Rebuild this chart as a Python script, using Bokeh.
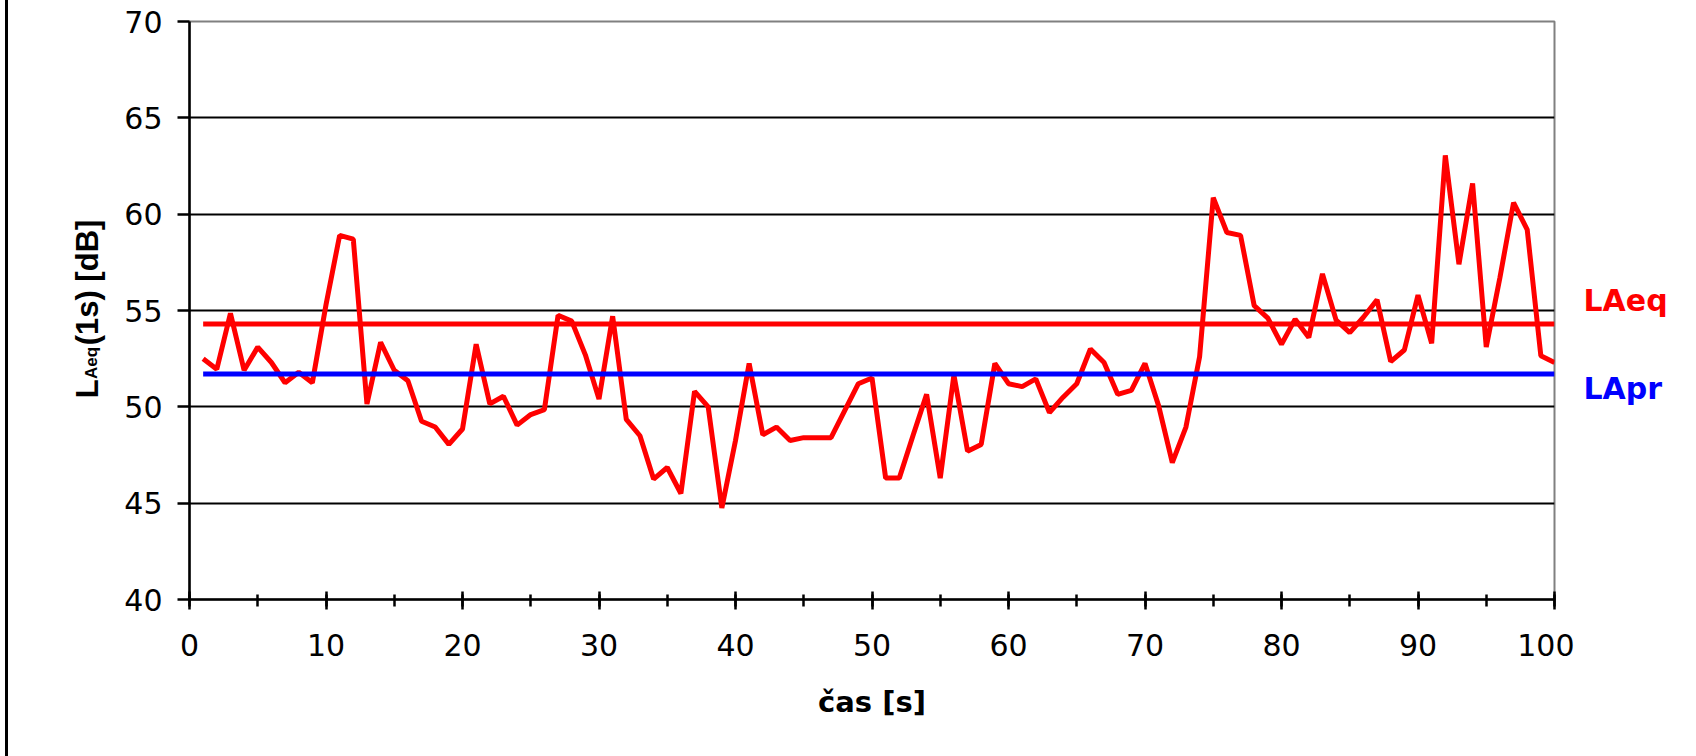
import math
from bokeh.plotting import figure
from bokeh.models import (SingleIntervalTicker, FixedTicker, Label, Spacer,
                          Range1d, ColumnDataSource)
from bokeh.layouts import row
from bokeh.embed import file_html
from bokeh.resources import INLINE

# ---------------- data ----------------
time_s = list(range(1, 101))
laeq_1s = [
    52.5, 51.95, 54.85, 51.9, 53.1, 52.3, 51.25, 51.8, 51.25, 55.3,
    58.9, 58.7, 50.15, 53.35, 51.9, 51.35, 49.25, 48.95, 48.05, 48.85,
    53.25, 50.15, 50.55, 49.05, 49.6, 49.85, 54.75, 54.45, 52.7, 50.4,
    54.7, 49.35, 48.5, 46.25, 46.85, 45.5, 50.8, 50.0, 44.75, 48.25,
    52.25, 48.55, 48.95, 48.25, 48.4, 48.4, 48.4, 49.8, 51.2, 51.5,
    46.3, 46.3, 48.5, 50.65, 46.3, 51.65, 47.7, 48.05, 52.25, 51.2,
    51.05, 51.45, 49.7, 50.5, 51.2, 53.0, 52.3, 50.65, 50.85, 52.25,
    50.05, 47.1, 48.95, 52.6, 60.85, 59.05, 58.9, 55.25, 54.6, 53.25,
    54.55, 53.6, 56.9, 54.5, 53.85, 54.65, 55.55, 52.35, 52.95, 55.8,
    53.3, 63.05, 57.4, 61.6, 53.1, 56.7, 60.6, 59.2, 52.65, 52.3,
]
laeq_total = 54.3
lapr = 51.7
series_names = ["LAeq", "LApr"]
x_title = "čas [s]"
y_title_parts = ["L", "Aeq", "(1s) [dB]"]

Y0, Y1 = 40, 70
TOP, BOTTOM = 21, 157
H = 756

# ---------------- main chart ----------------
p = figure(width=1466, height=H, x_range=Range1d(0, 100), y_range=Range1d(Y0, Y1),
           output_backend="svg", toolbar_location=None, title=None,
           min_border_left=81, min_border_right=20, min_border_top=TOP,
           min_border_bottom=BOTTOM, background_fill_color="white",
           border_fill_color="white")

p.outline_line_color = "#808080"
p.outline_line_width = 2

p.xgrid.visible = False
p.ygrid.ticker = FixedTicker(ticks=[45, 50, 55, 60, 65])
p.ygrid.grid_line_color = "black"
p.ygrid.grid_line_width = 2

p.xaxis.ticker = SingleIntervalTicker(interval=10, num_minor_ticks=2)
p.yaxis.ticker = SingleIntervalTicker(interval=5, num_minor_ticks=0)

for ax in (p.xaxis, p.yaxis):
    ax.axis_line_color = "black"
    ax.axis_line_width = 2.5
    ax.major_tick_line_color = "black"
    ax.major_tick_line_width = 2.5
    ax.minor_tick_line_color = "black"
    ax.minor_tick_line_width = 2.5
    ax.major_label_text_font = "DejaVu Sans"
    ax.major_label_text_font_size = "30px"
    ax.major_label_text_color = "black"

p.xaxis.major_tick_in = 8
p.xaxis.major_tick_out = 10
p.xaxis.minor_tick_in = 5
p.xaxis.minor_tick_out = 7
p.xaxis.major_label_standoff = 24
p.xaxis.axis_label = x_title
p.xaxis.axis_label_text_font = "DejaVu Sans"
p.xaxis.axis_label_text_font_style = "bold"
p.xaxis.axis_label_text_font_size = "29px"
p.xaxis.axis_label_text_color = "black"
p.xaxis.axis_label_standoff = 26

p.yaxis.major_tick_in = 0
p.yaxis.major_tick_out = 12
p.yaxis.minor_tick_in = 0
p.yaxis.minor_tick_out = 0
p.yaxis.major_label_standoff = 15

src = ColumnDataSource(dict(t=time_s, v=laeq_1s,
                            eq=[laeq_total] * len(time_s),
                            pr=[lapr] * len(time_s)))
p.line("t", "v", source=src, line_color="#FF0000", line_width=5)
p.line("t", "eq", source=src, line_color="#FF0000", line_width=5)
p.line("t", "pr", source=src, line_color="#0000FF", line_width=5)


def side_fig(width, x0):
    f = figure(width=width, height=H, x_range=Range1d(x0, x0 + width),
               y_range=Range1d(Y0, Y1), output_backend="svg", toolbar_location=None,
               title=None, x_axis_location=None, y_axis_location=None,
               min_border_left=0, min_border_right=0, min_border_top=TOP,
               min_border_bottom=BOTTOM, background_fill_color="white",
               border_fill_color="white")
    f.outline_line_color = None
    f.grid.visible = False
    return f


# ---------------- left panel: y-axis title with subscript ----------------
left = side_fig(100, 8)
ang = math.pi / 2
left.add_layout(Label(x=87, y=50.45, text=y_title_parts[0], angle=ang,
                      text_font="Liberation Sans", text_font_style="bold",
                      text_font_size="31px", text_baseline="alphabetic",
                      text_color="black"))
left.add_layout(Label(x=91, y=51.44, text=y_title_parts[1], angle=ang,
                      text_font="Liberation Sans", text_font_style="bold",
                      text_font_size="17px", text_baseline="alphabetic",
                      text_color="black"))
left.add_layout(Label(x=87, y=53.19, text=y_title_parts[2], angle=ang,
                      text_font="Liberation Sans", text_font_style="bold",
                      text_font_size="31px", text_baseline="alphabetic",
                      text_color="black"))

# ---------------- right panel: series labels ----------------
right = side_fig(122, 1574)
right.add_layout(Label(x=1583, y=55.52, text=series_names[0], text_color="#FF0000",
                       text_font="DejaVu Sans", text_font_style="bold",
                       text_font_size="30px", text_baseline="alphabetic"))
right.add_layout(Label(x=1583, y=50.96, text=series_names[1], text_color="#0000FF",
                       text_font="DejaVu Sans", text_font_style="bold",
                       text_font_size="30px", text_baseline="alphabetic"))

left_gap = Spacer(width=5, height=H)
left_bar = Spacer(width=3, height=H, styles={"background-color": "black"})
layout = row(left_gap, left_bar, left, p, right)

open("out.html", "w").write(file_html(layout, INLINE))
